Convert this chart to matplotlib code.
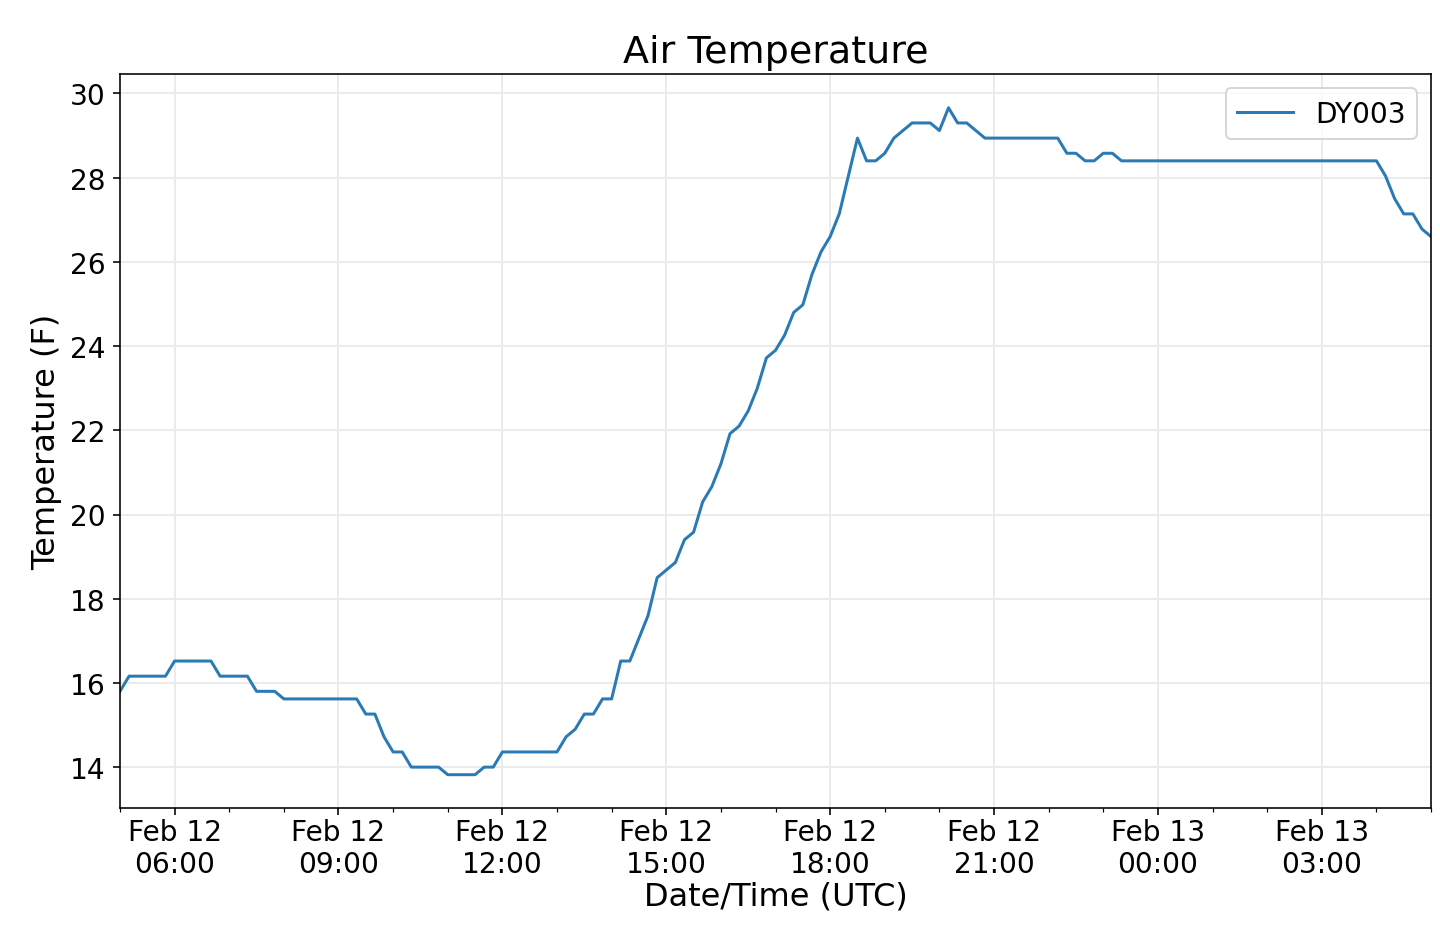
import pandas as pd
import matplotlib
matplotlib.use("Agg")
import matplotlib.pyplot as plt
import matplotlib.dates as mdates

# 10-minute air temperature readings, Feb 12 05:00 -> Feb 13 05:00 UTC
start = "2020-02-12 05:00"
step = "10min"
station = "DY003"

temps_f = (
    [15.8]
    + [16.16] * 5
    + [16.52] * 5
    + [16.16] * 4
    + [15.8] * 3
    + [15.62] * 9
    + [15.26] * 2
    + [14.72]
    + [14.36] * 2
    + [14.0] * 4
    + [13.82] * 4
    + [14.0] * 2
    + [14.36] * 7
    + [14.72, 14.9, 15.26, 15.26, 15.62, 15.62, 16.52, 16.52]
    + [17.06, 17.6, 18.5, 18.68, 18.86, 19.4, 19.58, 20.3, 20.66, 21.2,
       21.92, 22.1, 22.46, 23.0, 23.72, 23.9, 24.26, 24.8, 24.98, 25.7,
       26.24, 26.6, 27.14, 28.04, 28.94]
    + [28.4, 28.4, 28.58, 28.94, 29.12, 29.3, 29.3, 29.3, 29.12, 29.66,
       29.3, 29.3, 29.12]
    + [28.94] * 9
    + [28.58] * 2
    + [28.4] * 2
    + [28.58] * 2
    + [28.4] * 29
    + [28.04, 27.5, 27.14, 27.14, 26.78, 26.6]
)

times = pd.date_range(start, periods=len(temps_f), freq=step)

fig, ax = plt.subplots(figsize=(10, 6.465), dpi=144)
fig.subplots_adjust(left=0.0833, right=0.9938, top=0.919, bottom=0.131)

ax.plot(times, temps_f, color='#2a7ab5', linewidth=1.5, label=station)

ax.xaxis.set_major_locator(mdates.HourLocator(byhour=range(0, 24, 3)))
ax.xaxis.set_minor_locator(mdates.HourLocator())
ax.xaxis.set_major_formatter(mdates.DateFormatter('%b %d\n%H:%M'))
ax.set_xlim(times[0], times[-1])

ax.grid(True, color='0.92', linewidth=1)
ax.tick_params(axis='both', which='major', labelsize=14)
ax.tick_params(axis='x', which='major', pad=1.5)

ax.set_xlabel('Date/Time (UTC)', fontsize=16, labelpad=1)
ax.set_ylabel('Temperature (F)', fontsize=16)
ax.set_title('Air Temperature', fontsize=19)
ax.legend(loc='upper right', fontsize=14)

fig.savefig('out.png', dpi=144)
